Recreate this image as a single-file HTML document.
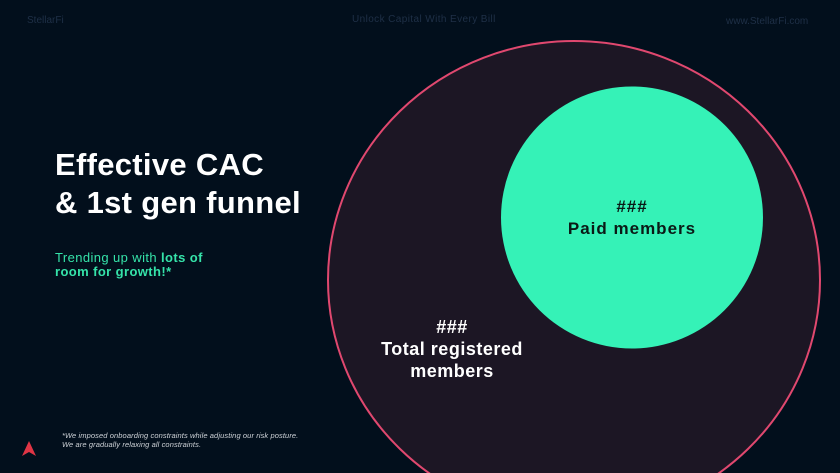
<!DOCTYPE html>
<html><head><meta charset="utf-8"><style>
html,body{margin:0;padding:0}
body{width:840px;height:473px;background:#020f1c;position:relative;overflow:hidden;font-family:"Liberation Sans",sans-serif}
.t{position:absolute;white-space:nowrap}
</style></head><body>
<div class="t" style="left:27px;top:15px;font-size:10px;color:#1f3047">StellarFi</div>
<div class="t" style="left:352px;top:14px;font-size:10px;letter-spacing:0.4px;color:#1f3047">Unlock Capital With Every Bill</div>
<div class="t" style="left:726px;top:16px;font-size:10px;color:#1f3047">www.StellarFi.com</div>
<svg width="840" height="473" style="position:absolute;left:0;top:0">
<ellipse cx="574" cy="280" rx="246" ry="239" fill="#1c1624" stroke="#e0486f" stroke-width="2"/>
<circle cx="632" cy="217.5" r="131" fill="#35f2b7"/>
<polygon points="29,441 22,456 29,452 36,456" fill="#e03545"/>
</svg>
<div class="t" style="left:55px;top:146px;font-size:31px;letter-spacing:0.3px;font-weight:bold;color:#fff;line-height:38px">Effective CAC<br>&amp; 1st gen funnel</div>
<div class="t" style="left:55px;top:251px;font-size:13px;letter-spacing:0.4px;color:#35e3a9;line-height:14px">Trending up with <b>lots of</b><br><b>room for growth!*</b></div>
<div class="t" style="left:62px;top:431px;font-size:7.5px;letter-spacing:0.1px;font-style:italic;color:#cfd3d8;line-height:9px">*We imposed onboarding constraints while adjusting our risk posture.<br>We are gradually relaxing all constraints.</div>
<div class="t" style="left:532px;top:196px;width:200px;text-align:center;font-size:17px;letter-spacing:1px;font-weight:bold;color:#0a1a16;line-height:22px">###<br>Paid members</div>
<div class="t" style="left:352px;top:316px;width:200px;text-align:center;font-size:18px;letter-spacing:0.5px;font-weight:bold;color:#fff;line-height:22px">###<br>Total registered<br>members</div>
</body></html>
